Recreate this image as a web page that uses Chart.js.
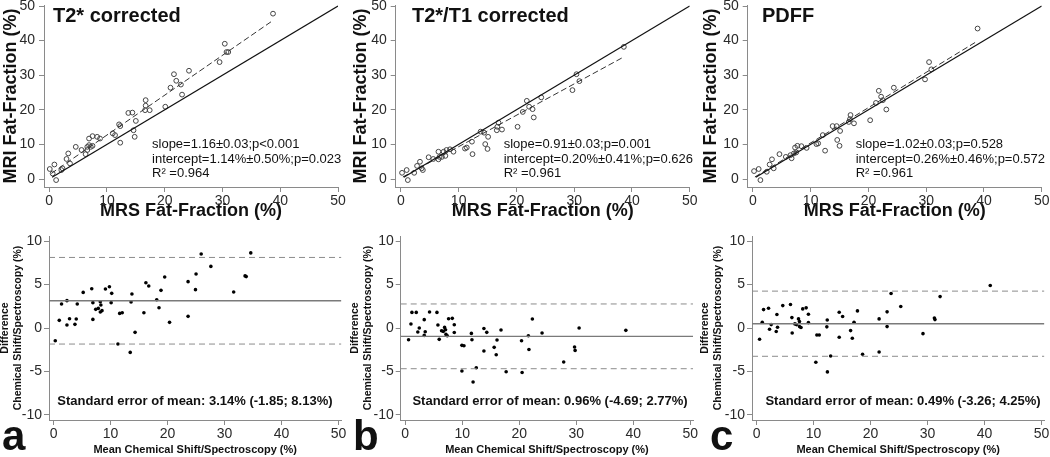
<!DOCTYPE html>
<html>
<head>
<meta charset="utf-8">
<script src="https://cdn.jsdelivr.net/npm/chart.js@4.4.1/dist/chart.umd.min.js"></script>
<style>
    body { margin: 0; background: #fff; width: 1050px; height: 457px; position: relative; overflow: hidden; }
    canvas { position: absolute; }
</style>
</head>
<body>
<canvas id="topA" width="350" height="220" style="left:0;top:0"></canvas>
<canvas id="topB" width="350" height="220" style="left:350px;top:0"></canvas>
<canvas id="topC" width="350" height="220" style="left:700px;top:0"></canvas>
<canvas id="baA" width="350" height="237" style="left:0;top:220px"></canvas>
<canvas id="baB" width="350" height="237" style="left:350px;top:220px"></canvas>
<canvas id="baC" width="350" height="237" style="left:700px;top:220px"></canvas>
<script>
// MRS vs MRI fat fraction
const t2sMrs = [38.75, 30.4, 30.7, 31.0, 29.5, 24.2, 21.6, 22.0, 22.8, 21.0, 23.0, 16.7, 16.7, 17.4, 16.6, 20.1, 13.7, 14.4, 12.1, 12.3, 15.0, 14.6, 11.0, 11.4, 14.8, 12.3, 6.9, 7.5, 8.3, 8.8, 6.9, 6.6, 7.2, 7.5, 6.6, 6.3, 5.6, 4.6, 3.3, 3.0, 3.6, 2.3, 0.9, 0.1, 0.6, 1.2, 2.1];
const t2sMri = [47.8, 39.1, 36.7, 36.7, 33.8, 31.3, 30.3, 28.4, 27.3, 26.4, 24.4, 22.8, 21.2, 19.9, 19.9, 20.9, 19.1, 19.2, 15.8, 15.3, 16.8, 14.1, 13.2, 12.7, 12.2, 10.5, 11.7, 12.4, 12.2, 11.7, 9.8, 9.3, 9.3, 9.6, 8.4, 7.2, 8.4, 9.3, 7.4, 5.8, 4.5, 3.1, 4.2, 2.9, 1.6, -0.3, 2.6];

const t1Mrs = [38.6, 30.4, 30.9, 29.7, 24.3, 21.8, 22.2, 21.1, 22.8, 23.0, 20.2, 16.9, 16.7, 17.5, 16.6, 13.8, 14.4, 15.1, 14.6, 15.0, 12.3, 11.1, 11.4, 12.4, 8.5, 7.9, 7.4, 7.1, 7.7, 6.7, 6.5, 5.6, 4.8, 3.3, 3.6, 3.8, 2.8, 2.3, 1.0, 0.2, 1.2, 9.1, 6.5];
const t1Mri = [38.2, 30.3, 28.3, 25.7, 23.6, 22.6, 20.9, 19.4, 20.2, 17.8, 15.1, 16.3, 15.1, 14.3, 14.1, 13.7, 13.4, 12.2, 10.1, 8.7, 10.8, 8.8, 9.1, 7.2, 8.6, 8.4, 7.9, 6.4, 6.7, 6.4, 5.7, 5.8, 6.3, 5.0, 3.1, 2.6, 3.8, 1.8, 2.6, 1.8, -0.3, 7.9, 7.9];

const pdffMrs = [38.9, 30.5, 30.9, 29.8, 24.4, 21.8, 22.2, 21.3, 22.5, 23.1, 20.3, 16.9, 16.8, 17.5, 16.6, 13.8, 14.5, 15.1, 14.6, 15.0, 12.1, 11.0, 11.3, 12.5, 8.4, 7.7, 7.3, 7.1, 7.5, 6.5, 6.7, 5.7, 4.6, 3.3, 3.6, 2.9, 2.4, 1.0, 0.2, 1.3, 9.3];
const pdffMri = [43.5, 33.8, 31.7, 28.8, 26.4, 25.5, 23.8, 22.0, 22.8, 20.1, 17.0, 18.5, 17.3, 16.1, 16.5, 15.3, 15.3, 13.9, 11.3, 9.6, 12.7, 10.1, 10.3, 8.2, 9.5, 9.6, 9.1, 7.4, 7.7, 6.9, 6.0, 6.4, 7.2, 5.7, 3.1, 4.2, 2.1, 2.9, 2.3, -0.3, 9.0];

// identity line and regression line end points
const identX = [0.5, 50];
const identY = [0.5, 50];
const fitXA = [0.35, 38.8];
const fitYA = [1.6, 45.9];
const fitXB = [0.35, 38.6];
const fitYB = [0.6, 35.3];
const fitXC = [0.35, 38.9];
const fitYC = [0.6, 39.9];

// Bland-Altman: mean vs difference
const baMeanA = [0.3, 1.0, 1.4, 2.35, 2.35, 2.8, 3.75, 3.98, 4.16, 5.2, 6.7, 6.9, 6.9, 7.4, 7.85, 8.2, 8.3, 8.2, 8.5, 9.1, 9.8, 10.2, 10.1, 11.3, 11.6, 12.05, 13.75, 13.6, 13.45, 14.3, 15.85, 16.2, 16.7, 18.1, 18.5, 18.85, 19.5, 20.35, 23.6, 23.6, 24.9, 25.0, 25.9, 27.6, 31.6, 33.6, 33.8, 34.6];
const baDiffA = [-1.47, 0.88, 2.77, 3.15, 0.35, 1.07, 0.42, 1.04, 2.77, 4.1, 4.53, 2.92, 0.99, 2.15, 2.26, 3.03, 2.65, 1.85, 2.0, 4.5, 4.76, 3.99, 2.92, -1.85, 1.68, 1.76, 3.92, 3.0, -2.81, -0.5, 1.76, 5.22, 4.84, 3.26, 2.34, 4.34, 5.88, 0.65, 5.34, 1.34, 4.42, 6.23, 8.53, 7.1, 4.15, 6.0, 5.92, 8.65];
const baMeanB = [0.58, 1.0, 1.17, 1.93, 2.2, 2.46, 3.33, 3.33, 3.5, 4.26, 5.56, 5.73, 5.96, 6.37, 6.67, 6.9, 7.07, 7.14, 7.37, 7.6, 8.25, 8.6, 8.6, 9.94, 10.3, 9.94, 11.6, 11.7, 11.9, 12.46, 13.8, 13.8, 14.3, 15.6, 15.96, 16.1, 16.8, 17.7, 20.4, 20.5, 21.6, 21.7, 22.3, 24.0, 27.8, 29.7, 29.8, 30.5, 38.7];
const baDiffB = [-1.35, 0.46, 1.8, 1.8, -0.46, 0, 0.96, -0.85, -0.43, 1.85, 1.8, 0.35, -1.31, -0.31, -0.39, 0.07, -0.2, -0.74, -0.89, 1.07, 1.11, 0.38, -0.51, -2.0, -2.04, -4.96, -0.62, -1.35, -6.23, -4.58, -0.05, -2.65, -0.5, -2.23, -3.08, -1.39, -0.23, -5.04, -1.47, -5.12, -0.89, -2.47, 1.04, -0.58, -3.92, -2.19, -2.58, 0, -0.27];
const baMeanC = [0.53, 1.0, 1.23, 2.1, 2.28, 2.57, 3.57, 3.45, 3.68, 4.6, 5.95, 6.2, 6.25, 6.72, 7.0, 7.36, 7.53, 7.53, 7.8, 8.1, 8.7, 9.1, 9.1, 10.4, 10.58, 11.0, 12.4, 12.33, 12.43, 13.0, 14.5, 14.5, 15.1, 16.5, 16.8, 17.1, 17.7, 18.6, 21.5, 21.5, 22.9, 22.9, 23.6, 25.3, 29.2, 31.2, 31.3, 32.2, 41.0];
const baDiffC = [-1.29, 0.67, 2.12, 2.28, -0.14, 0.39, 1.55, -0.41, 0.09, 2.58, 2.7, 1.2, -0.57, 0.47, 0.39, 1.05, 0.74, 0.16, 0.05, 2.2, 2.32, 1.59, 0.62, -3.94, -0.8, -0.8, 0.93, 0.13, -5.06, -3.22, 1.82, -1.06, 1.32, -0.3, -1.18, 0.67, 1.97, -3.02, 1.05, -2.76, 0.16, 1.86, 3.97, 2.47, -0.65, 1.16, 0.97, 3.62, 4.89];

// lower limit, mean difference, upper limit
const limitsA = [-1.85, 3.14, 8.13];
const limitsB = [-4.69, -0.96, 2.77];
const limitsC = [-3.26, 0.49, 4.25];

const fracTicks = [0, 10, 20, 30, 40, 50];
const diffTicks = [-10, -5, 0, 5, 10];

const FONT = '"Liberation Sans", Arial, Helvetica, sans-serif';
Chart.defaults.font.family = FONT;
Chart.defaults.color = '#222';
Chart.defaults.animation = false;

// free text drawn on top of each panel
const panelText = {
    id: 'panelText',
    afterDraw(chart, args, opts) {
        const ctx = chart.ctx;
        const xs = chart.scales.x, ys = chart.scales.y;
        ctx.save();
        ctx.fillStyle = '#111';
        (opts.items || []).forEach(it => {
            ctx.font = it.font;
            ctx.textAlign = it.align || 'left';
            ctx.textBaseline = it.baseline || 'middle';
            const x = it.px != null ? it.px : xs.getPixelForValue(it.x);
            const y = it.py != null ? it.py : ys.getPixelForValue(it.y);
            ctx.fillText(it.text, x, y);
        });
        ctx.restore();
    }
};

function pts(xs, ys) {
    return xs.map((x, i) => ({ x: x, y: ys[i] }));
}

function axis(isX, ticks, min, max, size, title, titleFont, titlePad, tickPad) {
    return {
        type: 'linear',
        min: min,
        max: max,
        afterBuildTicks: s => { s.ticks = ticks.map(v => ({ value: v })); },
        afterFit: s => {
            if (isX) {
                s.height = size;
                s.paddingLeft = 0;
                s.paddingRight = 0;
            } else {
                s.width = size;
                s.paddingTop = 0;
                s.paddingBottom = 0;
            }
        },
        grid: { drawOnChartArea: false, drawTicks: true, tickLength: 5, tickColor: '#8a8a8a' },
        border: { display: true, color: '#8a8a8a', width: 1 },
        ticks: { font: { size: 14 }, color: '#2a2a2a', padding: tickPad, maxRotation: 0, autoSkip: false },
        title: { display: true, text: title, font: titleFont, padding: titlePad, color: '#111' }
    };
}

function topChart(id, mrs, mri, fitX, fitY, left, title, titleX, notes) {
    const noteFont = '13px ' + FONT;
    new Chart(document.getElementById(id), {
        type: 'scatter',
        data: {
            datasets: [
                { data: pts(identX, identY), showLine: true, borderColor: '#111', borderWidth: 1.2, pointRadius: 0 },
                { data: pts(fitX, fitY), showLine: true, borderColor: '#333', borderWidth: 1, borderDash: [6, 3], pointRadius: 0 },
                { data: pts(mrs, mri), pointRadius: 2.4, pointBorderWidth: 1, pointBorderColor: '#444', pointBackgroundColor: 'rgba(255,255,255,0)' }
            ]
        },
        options: {
            responsive: false,
            animation: false,
            layout: { padding: { left: 0, top: 5, right: 350 - left - 294, bottom: 0 } },
            plugins: {
                legend: { display: false },
                tooltip: { enabled: false },
                panelText: {
                    items: [
                        { text: title, px: titleX, py: 16, font: 'bold 20px ' + FONT },
                        { text: notes[0], x: 17.8, y: 10.1, font: noteFont },
                        { text: notes[1], x: 17.8, y: 5.8, font: noteFont },
                        { text: notes[2], x: 17.8, y: 1.5, font: noteFont }
                    ]
                }
            },
            scales: {
                x: axis(true, fracTicks, -0.9, 50, 33, 'MRS Fat-Fraction (%)',
                    { size: 18, weight: 'bold', lineHeight: 1 }, { top: 0, bottom: 0 }, 1),
                y: axis(false, fracTicks, -2.3, 50.3, left, 'MRI Fat-Fraction (%)',
                    { size: 18, weight: 'bold', lineHeight: 1 }, { top: 2, bottom: 0 }, 4)
            }
        },
        plugins: [panelText]
    });
}

function baChart(id, means, diffs, limits, left, letter, letterX, note, textX) {
    const xMin = -0.8, xMax = 50.5;
    const hline = (v, dash) => ({
        data: pts([xMin, xMax], [v, v]), showLine: true, pointRadius: 0,
        borderColor: dash ? '#8c8c8c' : '#7a7a7a', borderWidth: dash ? 1 : 1.3, borderDash: dash ? [6, 4] : []
    });
    new Chart(document.getElementById(id), {
        type: 'scatter',
        data: {
            datasets: [
                hline(limits[0], true),
                hline(limits[1], false),
                hline(limits[2], true),
                { data: pts(means, diffs), pointRadius: 1.8, pointBorderWidth: 0, pointBackgroundColor: '#000' }
            ]
        },
        options: {
            responsive: false,
            animation: false,
            layout: { padding: { left: 0, top: 16, right: 350 - left - 292.4, bottom: 0 } },
            plugins: {
                legend: { display: false },
                tooltip: { enabled: false },
                panelText: {
                    items: [
                        { text: note, x: textX, y: -8.45, align: 'center', font: 'bold 13px ' + FONT },
                        { text: letter, px: letterX, py: 230, baseline: 'alphabetic', font: 'bold 42px ' + FONT }
                    ]
                }
            },
            scales: {
                x: axis(true, fracTicks, xMin, xMax, 37, 'Mean Chemical Shift/Spectroscopy (%)',
                    { size: 11, weight: 'bold', lineHeight: 1.2 }, { top: 0, bottom: 0 }, 1),
                y: axis(false, diffTicks, -10.6, 10.6, left, ['Difference', 'Chemical Shift/Spectroscopy (%)'],
                    { size: 10.5, weight: 'bold', lineHeight: '13px' }, { top: -1.5, bottom: 0 }, 2)
            }
        },
        plugins: [panelText]
    });
}

topChart('topA', t2sMrs, t2sMri, fitXA, fitYA, 44, 'T2* corrected', 53,
    ['slope=1.16±0.03;p<0.001', 'intercept=1.14%±0.50%;p=0.023', 'R² =0.964']);
topChart('topB', t1Mrs, t1Mri, fitXB, fitYB, 45.7, 'T2*/T1 corrected', 62,
    ['slope=0.91±0.03;p=0.001', 'intercept=0.20%±0.41%;p=0.626', 'R² =0.961']);
topChart('topC', pdffMrs, pdffMri, fitXC, fitYC, 47.7, 'PDFF', 62,
    ['slope=1.02±0.03;p=0.528', 'intercept=0.26%±0.46%;p=0.572', 'R² =0.961']);

baChart('baA', baMeanA, baDiffA, limitsA, 49, 'a', 2, 'Standard error of mean: 3.14% (-1.85; 8.13%)', 24.8);
baChart('baB', baMeanB, baDiffB, limitsB, 50.7, 'b', 3, 'Standard error of mean: 0.96% (-4.69; 2.77%)', 25.4);
baChart('baC', baMeanC, baDiffC, limitsC, 52, 'c', 10, 'Standard error of mean: 0.49% (-3.26; 4.25%)', 25.7);
</script>
</body>
</html>
